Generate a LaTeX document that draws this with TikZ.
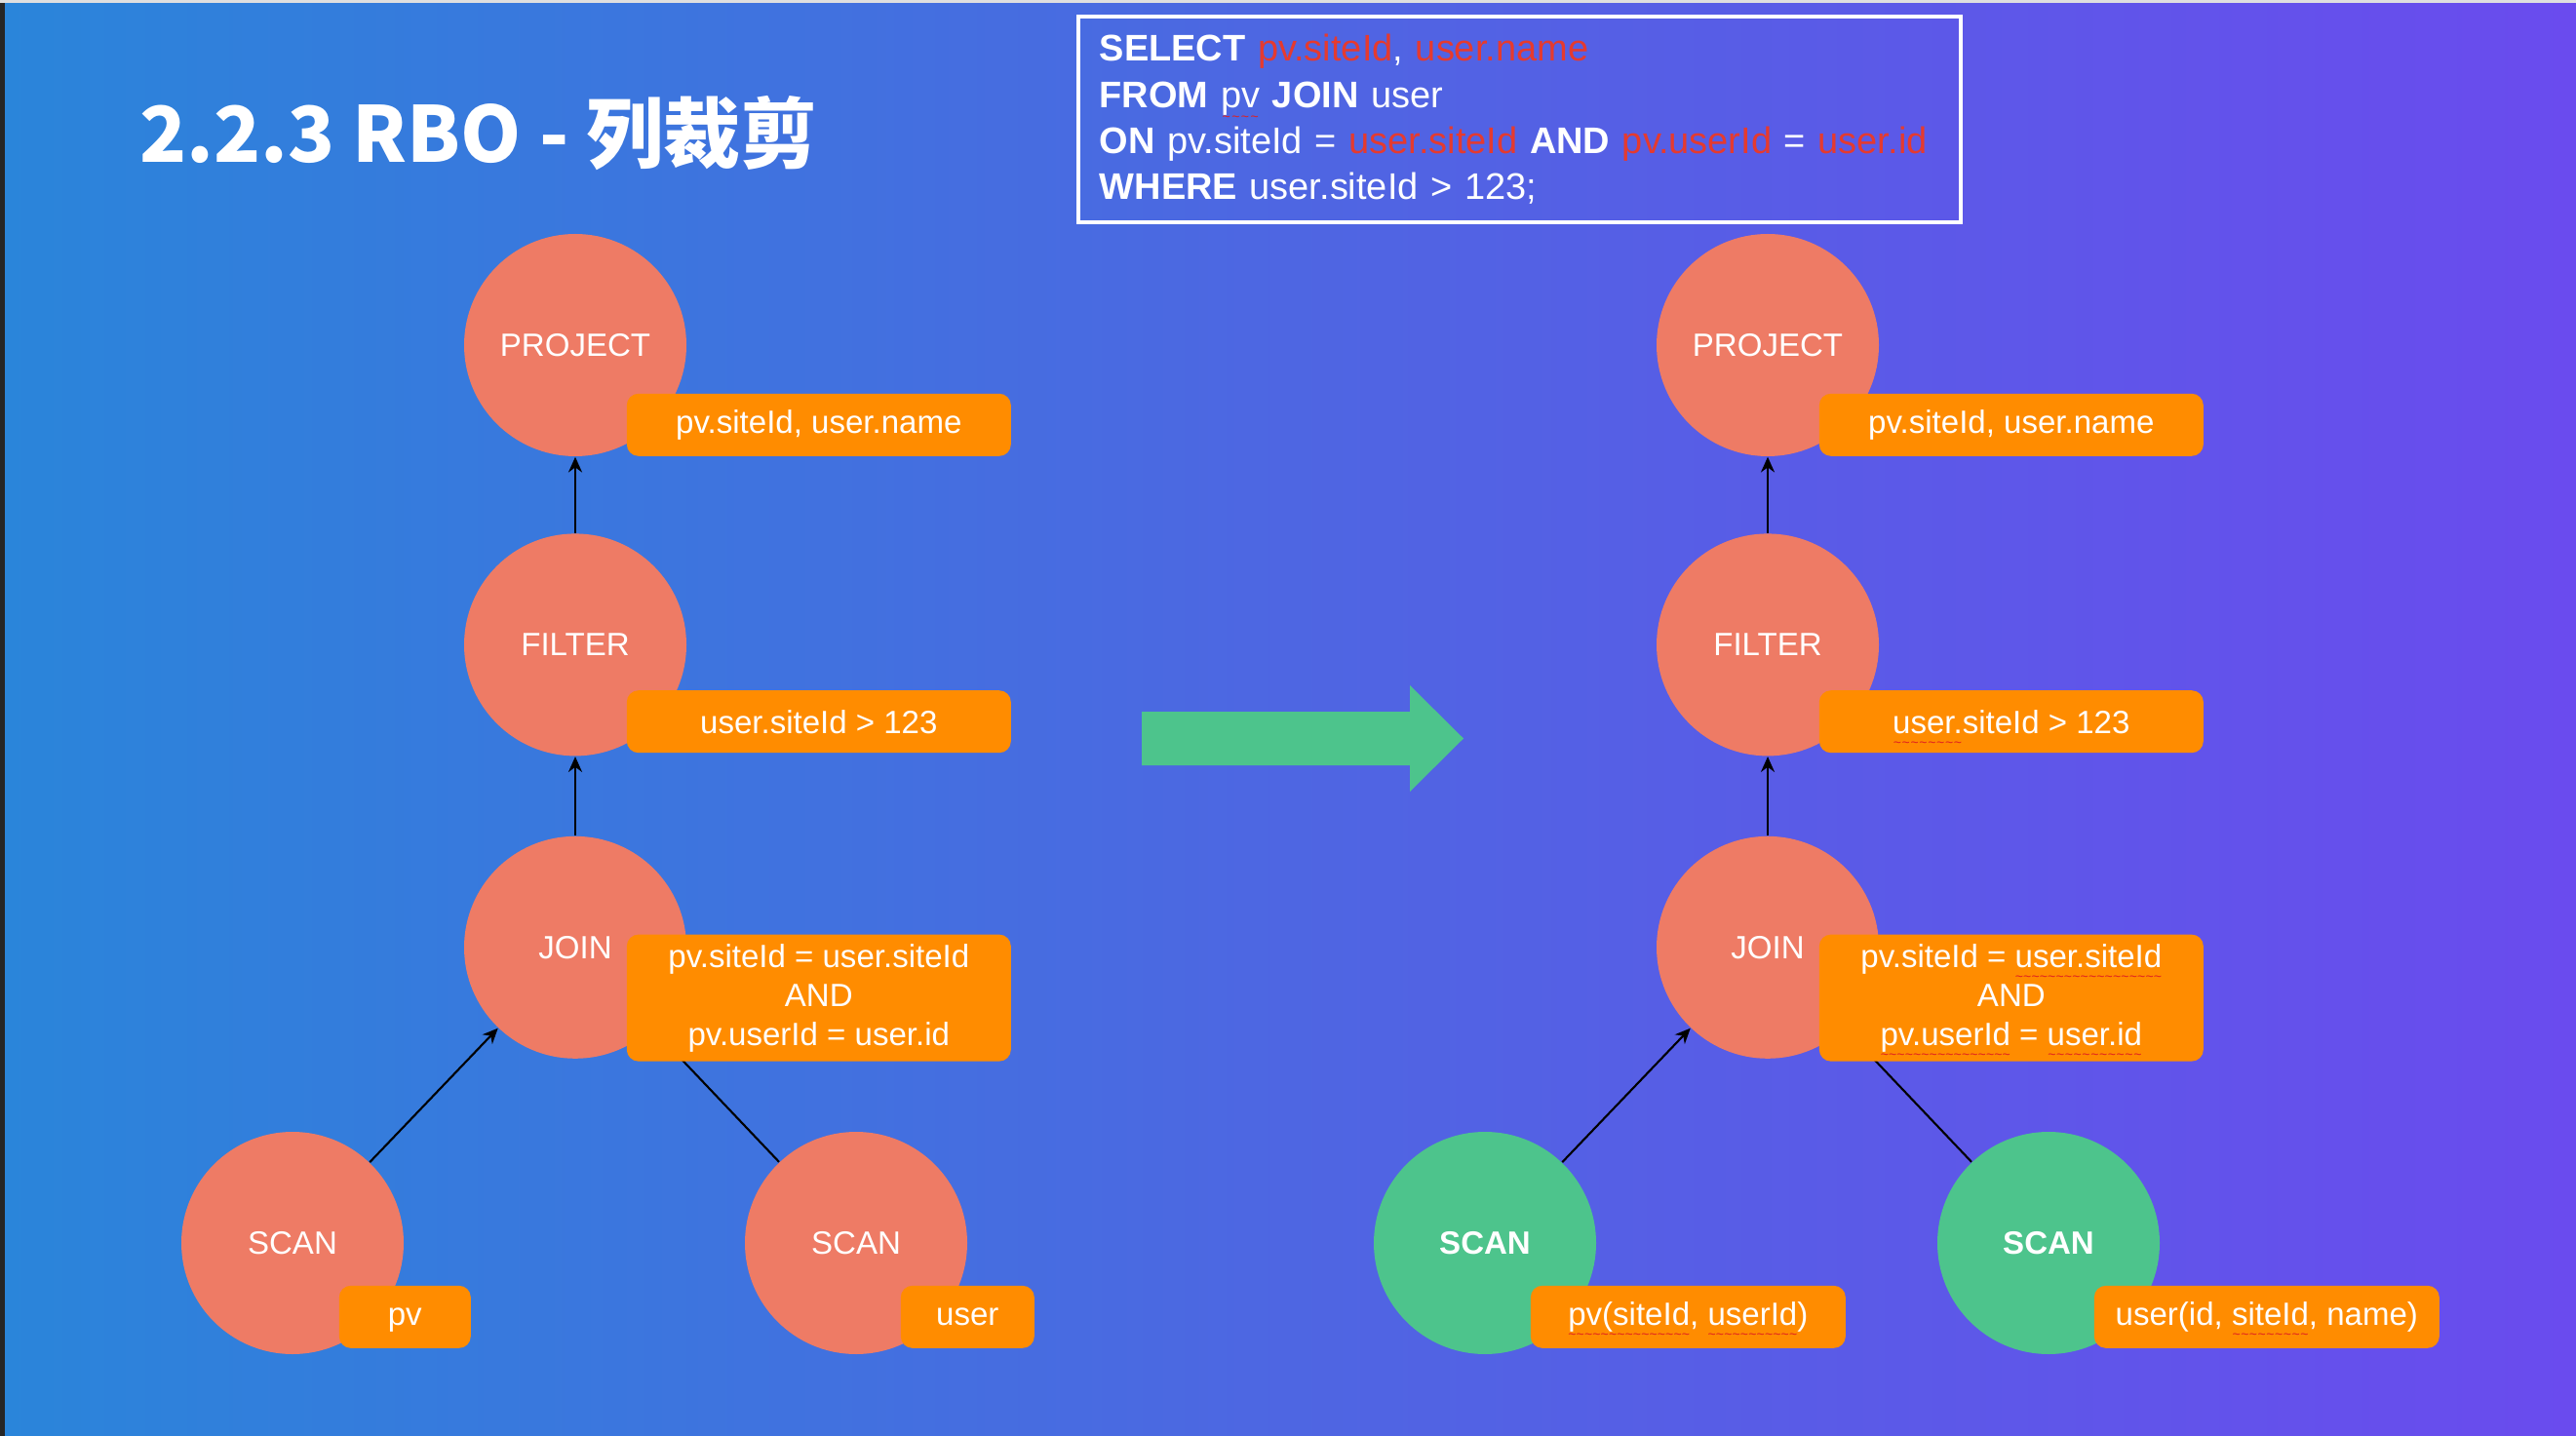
\documentclass[tikz,border=0pt]{standalone}
\usepackage{fontspec}
\setmainfont{Liberation Sans}
\newfontfamily\cjk{Noto Sans CJK SC}
\usetikzlibrary{positioning,arrows.meta}

\definecolor{bgleft}{HTML}{2A85DA}
\definecolor{bgmid}{HTML}{4E66E2}
\definecolor{bgright}{HTML}{6A4BEE}
\definecolor{opsalmon}{HTML}{EE7B65}
\definecolor{opgreen}{HTML}{4DC48C}
\definecolor{infoorange}{HTML}{FF8C00}
\definecolor{sqlred}{HTML}{E53A2F}
\definecolor{spellred}{HTML}{E02020}

\newcommand\lblfont{\fontsize{9.4}{11.4}\selectfont}
\newsavebox\spellbox
\newcommand\spell[1]{\sbox\spellbox{#1}\rlap{\smash{\raisebox{-4pt}{\hbox to\wd\spellbox{\color{spellred}\fontsize{4}{4}\selectfont\xleaders\hbox{\char"7E}\hfill}}}}\usebox\spellbox}

\begin{document}
\begin{tikzpicture}[
		op/.style={circle, fill=opsalmon, text=white, minimum size=2.28cm, inner sep=0pt, font=\lblfont},
		opnew/.style={op, fill=opgreen, font=\lblfont\bfseries},
		info/.style={fill=infoorange, text=white, rounded corners=1.2mm, minimum height=0.64cm, inner sep=0pt, align=center, font=\lblfont},
		link/.style={black, line width=0.6pt},
		flow/.style={link, -{Stealth[length=4.5pt, width=4pt]}}
	]
		% Slide
		\useasboundingbox (0,0) rectangle (26.42,-14.73);
		\shade[left color=bgleft, right color=bgright, middle color=bgmid] (0,0) rectangle (26.42,-14.73);
		\fill[black!85] (0,0) rectangle (0.05,-14.73);
		\fill[gray!25] (0,0) rectangle (26.42,-0.035);
		\node[anchor=base west, inner sep=0pt, text=white, font={\cjk\bfseries\fontsize{22.5}{26}\selectfont}] (Title) at (1.43,-1.67) {2.2.3 RBO - 列裁剪} ;
		\node[draw=white, line width=1pt, anchor=north west, minimum height=2.11cm, text width=8.61cm, inner xsep=0.22cm, align=left, text=white, font=\fontsize{10.8}{13.4}\selectfont] (Query) at (11.04,-0.15) {%
			\textbf{SELECT} \textcolor{sqlred}{pv.siteId}, \textcolor{sqlred}{user.name}\\
			\textbf{FROM} \spell{pv} \textbf{JOIN} user\\
			\textbf{ON} pv.siteId = \textcolor{sqlred}{user.siteId} \textbf{AND} \textcolor{sqlred}{pv.userId} = \textcolor{sqlred}{user.id}\\
			\textbf{WHERE} user.siteId > 123;} ;
		% Rewrite
		\fill[opgreen] (11.71,-7.30) -- (14.46,-7.30) -- (14.46,-7.03) -- (15.01,-7.575) -- (14.46,-8.12) -- (14.46,-7.85) -- (11.71,-7.85) -- cycle ;
		% Before
		\node[op] (Project) at (5.90,-3.54) {PROJECT} ;
		\node[op, below=0.78cm of Project] (Filter) {FILTER} ;
		\node[op, below=0.81cm of Filter] (Join) {JOIN} ;
		\node[op] (ScanPv) at (3.00,-12.75) {SCAN} ;
		\node[op] (ScanUser) at (8.78,-12.75) {SCAN} ;
		% After
		\node[op] (ProjectR) at (18.13,-3.54) {PROJECT} ;
		\node[op, below=0.78cm of ProjectR] (FilterR) {FILTER} ;
		\node[op, below=0.81cm of FilterR] (JoinR) {JOIN} ;
		\node[opnew] (ScanPvR) at (15.23,-12.75) {SCAN} ;
		\node[opnew] (ScanUserR) at (21.01,-12.75) {SCAN} ;
		% Edges
		\draw[flow] (Filter) -- (Project) ;
		\draw[flow] (Join) -- (Filter) ;
		\draw[flow] (ScanPv) -- (Join) ;
		\draw[link] (Join) -- (ScanUser) ;
		\draw[flow] (FilterR) -- (ProjectR) ;
		\draw[flow] (JoinR) -- (FilterR) ;
		\draw[flow] (ScanPvR) -- (JoinR) ;
		\draw[link] (JoinR) -- (ScanUserR) ;
		% Columns and conditions
		\node[info, minimum width=3.94cm, below right=-0.32cm and -0.29cm of Project] (ProjectCols) {pv.siteId, user.name} ;
		\node[info, minimum width=3.94cm, below right=-0.35cm and -0.29cm of Filter] (FilterCond) {user.siteId > 123} ;
		\node[info, minimum width=3.94cm, minimum height=1.30cm, below right=-0.95cm and -0.29cm of Join] (JoinCond) {pv.siteId = user.siteId\\AND\\pv.userId = user.id} ;
		\node[info, minimum width=1.35cm, below right=-0.38cm and -0.34cm of ScanPv] (PvCols) {\vphantom{d}pv} ;
		\node[info, minimum width=1.37cm, below right=-0.38cm and -0.36cm of ScanUser] (UserCols) {user} ;
		\node[info, minimum width=3.94cm, below right=-0.32cm and -0.29cm of ProjectR] (ProjectColsR) {pv.siteId, user.name} ;
		\node[info, minimum width=3.94cm, below right=-0.35cm and -0.29cm of FilterR] (FilterCondR) {\spell{user.}siteId > 123} ;
		\node[info, minimum width=3.94cm, minimum height=1.30cm, below right=-0.95cm and -0.29cm of JoinR] (JoinCondR) {pv.siteId = \spell{user.siteId}\\AND\\\spell{pv.userId} = \spell{user.id}} ;
		\node[info, minimum width=3.23cm, below right=-0.38cm and -0.35cm of ScanPvR] (PvColsR) {\spell{pv(siteId}, \spell{userId})} ;
		\node[info, minimum width=3.54cm, below right=-0.38cm and -0.35cm of ScanUserR] (UserColsR) {user(id, \spell{siteId}, name)} ;
	\end{tikzpicture}
\end{document}
